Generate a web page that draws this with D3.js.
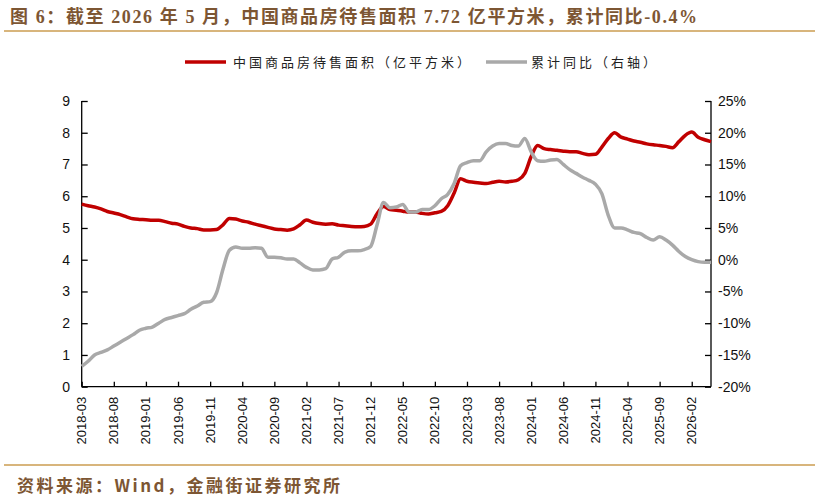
<!DOCTYPE html>
<html>
<head>
<meta charset="utf-8">
<script src="https://cdn.jsdelivr.net/npm/d3@7"></script>
<style>
  body { margin: 0; background: #fff; }
  svg { display: block; }
</style>
</head>
<body>
<div id="chart"></div>
<script>
// months 2018-03 .. 2026-05
const months = [];
for (let y = 2018, m = 3; y < 2026 || (y === 2026 && m <= 5); m++) {
    if (m > 12) { m = 1; y++; }
    if (y === 2026 && m > 5) break;
    months.push(`${y}-${String(m).padStart(2, '0')}`);
}

// 中国商品房待售面积（亿平方米）
const area = [
    5.75, 5.70, 5.66, 5.60, 5.52, 5.47, 5.42, 5.35, 5.29, 5.27,
    5.26, 5.24, 5.24, 5.20, 5.15, 5.12, 5.05, 5.00, 4.98, 4.94,
    4.94, 4.95, 5.10, 5.30, 5.28, 5.22, 5.18, 5.12, 5.07, 5.02,
    4.97, 4.95, 4.93, 4.97, 5.10, 5.25, 5.18, 5.14, 5.12, 5.13,
    5.09, 5.07, 5.05, 5.04, 5.05, 5.12, 5.45, 5.68, 5.58, 5.56,
    5.53, 5.50, 5.50, 5.46, 5.44, 5.48, 5.52, 5.70, 6.10, 6.55,
    6.47, 6.44, 6.42, 6.40, 6.44, 6.47, 6.45, 6.47, 6.52, 6.72,
    7.25, 7.60, 7.50, 7.47, 7.45, 7.42, 7.40, 7.40, 7.35, 7.31,
    7.32, 7.55, 7.82, 8.00, 7.86, 7.80, 7.74, 7.70, 7.65, 7.62,
    7.60, 7.57, 7.53, 7.72, 7.92, 8.02, 7.86, 7.78, 7.72
];

// 累计同比（%，右轴）
const yoy = [
    -16.8, -16.0, -15.0, -14.6, -14.2, -13.6, -13.0, -12.4, -11.8, -11.1,
    -10.8, -10.6, -10.0, -9.4, -9.1, -8.8, -8.5, -7.8, -7.3, -6.7,
    -6.6, -5.2, -1.5, 1.5, 2.0, 1.8, 1.8, 1.9, 1.8, 0.4,
    0.4, 0.3, 0.1, 0.1, -0.5, -1.2, -1.6, -1.6, -1.4, 0.1,
    0.4, 1.2, 1.4, 1.4, 1.6, 2.1, 5.5, 9.0, 8.2, 8.3,
    8.7, 7.5, 7.5, 7.9, 7.9, 8.5, 9.6, 10.3, 12.0, 14.8,
    15.3, 15.6, 15.6, 17.0, 17.9, 18.3, 18.3, 18.0, 17.9, 19.1,
    17.0, 15.6, 15.5, 15.7, 15.8, 15.0, 14.2, 13.6, 13.0, 12.5,
    11.9, 10.4, 7.0, 5.0, 5.0, 4.7, 4.3, 4.1, 3.5, 3.1,
    3.6, 3.1, 2.3, 1.3, 0.5, 0.0, -0.3, -0.4, -0.4
];

const leftTicks = [0, 1, 2, 3, 4, 5, 6, 7, 8, 9];
const rightTicks = [-20, -15, -10, -5, 0, 5, 10, 15, 20, 25];

const title = '图 6：截至 2026 年 5 月，中国商品房待售面积 7.72 亿平方米，累计同比-0.4%';
const source = '资料来源：Wind，金融街证券研究所';
const legendNames = ['中国商品房待售面积（亿平方米）', '累计同比（右轴）'];

const W = 820, H = 501;
const brown = '#7d5633';
const tan = '#d8b57c';

const svg = d3.select('#chart').append('svg')
    .attr('width', W)
    .attr('height', H);

// header / footer
svg.append('text')
    .attr('x', 10).attr('y', 23)
    .attr('fill', brown)
    .style('font-family', '"Liberation Serif", "Noto Sans CJK SC", serif')
    .style('font-weight', 'bold')
    .style('font-size', '18px')
    .style('letter-spacing', '1.6px')
    .text(title);

svg.append('line')
    .attr('x1', 4).attr('x2', 815).attr('y1', 31).attr('y2', 31)
    .attr('stroke', tan).attr('stroke-width', 2);

svg.append('line')
    .attr('x1', 4).attr('x2', 815).attr('y1', 465).attr('y2', 465)
    .attr('stroke', tan).attr('stroke-width', 2);

svg.append('text')
    .attr('x', 17).attr('y', 492)
    .attr('fill', brown)
    .style('font-family', '"Noto Sans CJK SC", sans-serif')
    .style('font-weight', 'bold')
    .style('font-size', '17px')
    .style('letter-spacing', '2.5px')
    .text(source);

// scales
const plot = {left: 81.7, right: 711, top: 101, bottom: 386.7};

const x = d3.scaleLinear()
    .domain([0, months.length - 1])
    .range([plot.left, plot.right]);

const yL = d3.scaleLinear().domain([0, 9]).range([plot.bottom, plot.top]);
const yR = d3.scaleLinear().domain([-20, 25]).range([plot.bottom, plot.top]);

const axisFont = '"Liberation Sans", Arial, sans-serif';

// left axis
const gL = svg.append('g')
    .attr('transform', `translate(${plot.left},0)`)
    .call(d3.axisRight(yL).tickValues(leftTicks).tickSize(6).tickFormat(''));
gL.selectAll('line, path').attr('stroke', '#000').attr('stroke-width', 1.3);
gL.select('.domain').attr('d', `M0,${plot.top}V${plot.bottom}`);

svg.append('g').selectAll('text')
    .data(leftTicks)
    .enter().append('text')
    .attr('x', 70)
    .attr('y', d => yL(d))
    .attr('dy', '0.35em')
    .attr('text-anchor', 'end')
    .style('font-family', axisFont)
    .style('font-size', '14px')
    .attr('fill', '#111')
    .text(d => d);

// right axis
const gR = svg.append('g')
    .attr('transform', `translate(${plot.right},0)`)
    .call(d3.axisLeft(yR).tickValues(rightTicks).tickSize(6).tickFormat(''));
gR.selectAll('line, path').attr('stroke', '#000').attr('stroke-width', 1.3);
gR.select('.domain').attr('d', `M0,${plot.top}V${plot.bottom}`);

svg.append('g').selectAll('text')
    .data(rightTicks)
    .enter().append('text')
    .attr('x', 718)
    .attr('y', d => yR(d))
    .attr('dy', '0.35em')
    .attr('text-anchor', 'start')
    .style('font-family', axisFont)
    .style('font-size', '14px')
    .attr('fill', '#111')
    .text(d => d + '%');

// x axis
const xTickIdx = d3.range(0, months.length, 5);
const gX = svg.append('g')
    .attr('transform', `translate(0,${plot.bottom})`)
    .call(d3.axisTop(x).tickValues(xTickIdx).tickSize(5).tickFormat(''));
gX.selectAll('line, path').attr('stroke', '#000').attr('stroke-width', 1.3);
gX.select('.domain').attr('d', `M${plot.left},0H${plot.right}`);

svg.append('g').selectAll('text')
    .data(xTickIdx)
    .enter().append('text')
    .attr('transform', i => `translate(${x(i)},${plot.bottom + 10}) rotate(-90)`)
    .attr('dy', '0.35em')
    .attr('text-anchor', 'end')
    .style('font-family', axisFont)
    .style('font-size', '13px')
    .attr('fill', '#111')
    .text(i => months[i]);

// lines
const lineL = d3.line()
    .x((d, i) => x(i))
    .y(d => yL(d))
    .curve(d3.curveMonotoneX);

const lineR = d3.line()
    .x((d, i) => x(i))
    .y(d => yR(d))
    .curve(d3.curveMonotoneX);

svg.append('path')
    .datum(area)
    .attr('fill', 'none')
    .attr('stroke', '#c00000')
    .attr('stroke-width', 3.5)
    .attr('stroke-linejoin', 'round')
    .attr('d', lineL);

svg.append('path')
    .datum(yoy)
    .attr('fill', 'none')
    .attr('stroke', '#a9a9a9')
    .attr('stroke-width', 3.5)
    .attr('stroke-linejoin', 'round')
    .attr('d', lineR);

// legend
const legend = [
    {name: legendNames[0], color: '#c00000', x1: 185, x2: 226, tx: 233},
    {name: legendNames[1], color: '#a9a9a9', x1: 486, x2: 527, tx: 531}
];
const lg = svg.append('g');
legend.forEach(l => {
    lg.append('line')
        .attr('x1', l.x1).attr('x2', l.x2)
        .attr('y1', 62).attr('y2', 62)
        .attr('stroke', l.color).attr('stroke-width', 3.5);
    lg.append('text')
        .attr('x', l.tx).attr('y', 62)
        .attr('dy', '0.35em')
        .style('font-family', '"Noto Sans CJK SC", sans-serif')
        .style('font-size', '13px')
        .style('letter-spacing', '3px')
        .attr('fill', '#222')
        .text(l.name);
});
</script>
</body>
</html>
